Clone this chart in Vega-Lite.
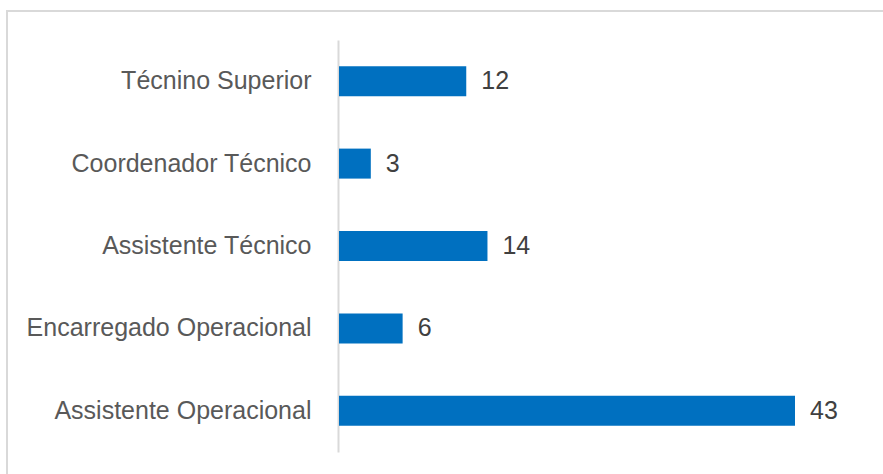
{
  "$schema": "https://vega.github.io/schema/vega-lite/v6.json",
  "width": 880,
  "height": 467,
  "padding": {"left": 7, "top": 11, "right": 0, "bottom": 0},
  "autosize": {"type": "none"},
  "background": "white",
  "config": {
    "view": {"stroke": "#d9d9d9", "strokeWidth": 2},
    "font": "Liberation Sans"
  },
  "data": {
    "values": [
      {"cargo": "Técnino Superior", "n": 12},
      {"cargo": "Coordenador Técnico", "n": 3},
      {"cargo": "Assistente Técnico", "n": 14},
      {"cargo": "Encarregado Operacional", "n": 6},
      {"cargo": "Assistente Operacional", "n": 43}
    ]
  },
  "encoding": {
    "y": {
      "field": "cargo",
      "type": "nominal",
      "sort": null,
      "scale": {"range": [29, 441], "paddingInner": 0.636, "paddingOuter": 0.318},
      "axis": {
        "title": null,
        "offset": -331,
        "ticks": false,
        "tickSize": 0,
        "domainColor": "#d9d9d9",
        "domainWidth": 2,
        "labelFont": "Liberation Sans",
        "labelFontSize": 25,
        "labelColor": "#595959",
        "labelPadding": 27,
        "labelLimit": 400
      }
    },
    "x": {
      "field": "n",
      "type": "quantitative",
      "scale": {"domain": [0, 43], "range": [332, 788]},
      "axis": null
    }
  },
  "layer": [
    {"mark": {"type": "bar", "color": "#0070c0"}},
    {
      "mark": {
        "type": "text",
        "align": "left",
        "baseline": "middle",
        "dx": 15,
        "fontSize": 25,
        "font": "Liberation Sans",
        "color": "#404040"
      },
      "encoding": {"text": {"field": "n", "type": "quantitative"}}
    }
  ]
}
